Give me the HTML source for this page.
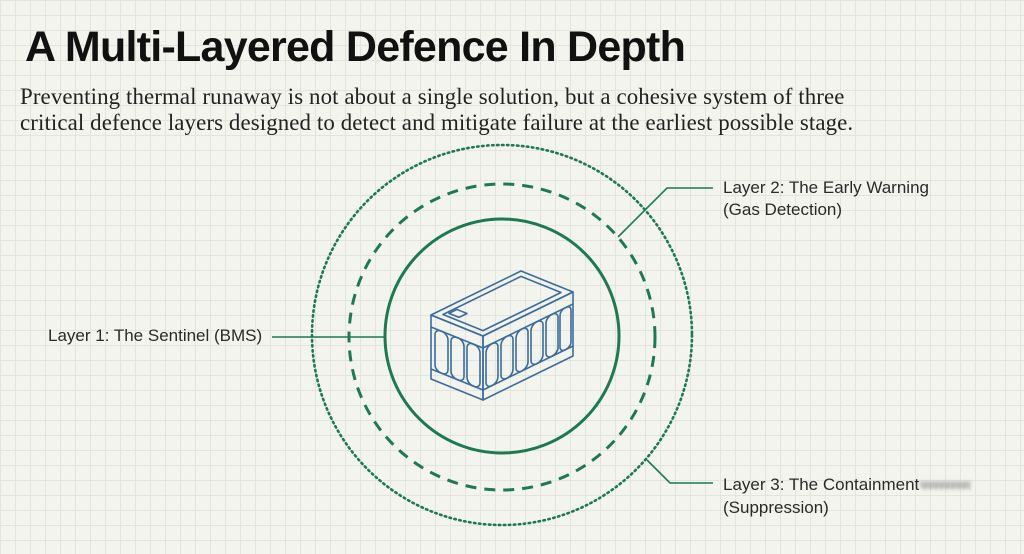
<!DOCTYPE html>
<html><head><meta charset="utf-8"><style>
html,body{margin:0;padding:0}
body{width:1024px;height:554px;overflow:hidden;position:relative;
background-color:#f4f4ef;
background-image:linear-gradient(#e3e5dc 1px,transparent 1px),linear-gradient(90deg,#e3e5dc 1px,transparent 1px);
background-size:15px 15px;font-family:"Liberation Sans",sans-serif}
h1{position:absolute;left:25px;top:20px;margin:0;font-size:43px;font-weight:bold;letter-spacing:-0.75px;color:#111;line-height:54px;white-space:nowrap}
.sub{position:absolute;left:20px;top:84px;font-family:"Liberation Serif",serif;font-size:22.9px;line-height:26px;color:#222;white-space:nowrap;letter-spacing:0.1px}
.lbl{position:absolute;font-size:17px;letter-spacing:0px;color:#2a2a2a;line-height:22px;white-space:nowrap}
.blur{display:inline-block;filter:blur(1.5px);color:#999;letter-spacing:-2px;font-size:13px}
svg{position:absolute;left:0;top:0}
</style></head><body>
<h1>A Multi-Layered Defence In Depth</h1>
<div class="sub">Preventing thermal runaway is not about a single solution, but a cohesive system of three<br>critical defence layers designed to detect and mitigate failure at the earliest possible stage.</div>
<svg width="1024" height="554" viewBox="0 0 1024 554">
<g fill="none" stroke="#1d7a4f">
<circle cx="502" cy="336" r="117" stroke-width="3"/>
<circle cx="502" cy="337" r="153" stroke-width="3" stroke-dasharray="11 8"/>
<circle cx="502" cy="335" r="190" stroke-width="2.6" stroke-dasharray="1.5 3.5" stroke-linecap="round"/>
<polyline points="272,337 385,337" stroke-width="1.6"/>
<polyline points="618,237 667,188 713,188" stroke-width="1.6"/>
<polyline points="647,460 670,483 713,483" stroke-width="1.6"/>
</g>
<g fill="none" stroke="#3b6c9e" stroke-width="1.6" stroke-linejoin="round">
<g transform="matrix(1,-0.489,1,0.404,431,315)">
<rect x="0" y="0" width="90" height="52" vector-effect="non-scaling-stroke"/>
<rect x="6" y="6" width="78" height="40" vector-effect="non-scaling-stroke"/>
<rect x="10" y="8" width="8" height="10" vector-effect="non-scaling-stroke"/>
</g>
<g transform="matrix(1,0.404,0,1,431,315)">
<rect x="0" y="0" width="52" height="64" vector-effect="non-scaling-stroke"/>
<line x1="0" y1="12" x2="52" y2="12" vector-effect="non-scaling-stroke"/>
<line x1="0" y1="54" x2="52" y2="54" vector-effect="non-scaling-stroke"/>
<rect x="4" y="12" width="13" height="42" rx="6" vector-effect="non-scaling-stroke"/>
<rect x="20" y="12" width="13" height="42" rx="6" vector-effect="non-scaling-stroke"/>
<rect x="36" y="12" width="13" height="42" rx="6" vector-effect="non-scaling-stroke"/>
</g>
<g transform="matrix(1,-0.489,0,1,483,336)">
<rect x="0" y="0" width="90" height="64" vector-effect="non-scaling-stroke"/>
<line x1="0" y1="12" x2="90" y2="12" vector-effect="non-scaling-stroke"/>
<line x1="0" y1="54" x2="90" y2="54" vector-effect="non-scaling-stroke"/>
<rect x="3" y="12" width="12" height="42" rx="6" vector-effect="non-scaling-stroke"/>
<rect x="18" y="12" width="12" height="42" rx="6" vector-effect="non-scaling-stroke"/>
<rect x="33" y="12" width="12" height="42" rx="6" vector-effect="non-scaling-stroke"/>
<rect x="48" y="12" width="12" height="42" rx="6" vector-effect="non-scaling-stroke"/>
<rect x="63" y="12" width="12" height="42" rx="6" vector-effect="non-scaling-stroke"/>
<rect x="77" y="12" width="11" height="42" rx="5" vector-effect="non-scaling-stroke"/>
</g>
</g>
</svg>
<div class="lbl" style="left:48px;top:325px">Layer 1: The Sentinel (BMS)</div>
<div class="lbl" style="left:723px;top:177px">Layer 2: The Early Warning<br>(Gas Detection)</div>
<div class="lbl" style="left:723px;top:474px">Layer 3: The Containment<span class="blur">ॺॺॺॺॺॺॺॺॺ</span><br>(Suppression)</div>
</body></html>
